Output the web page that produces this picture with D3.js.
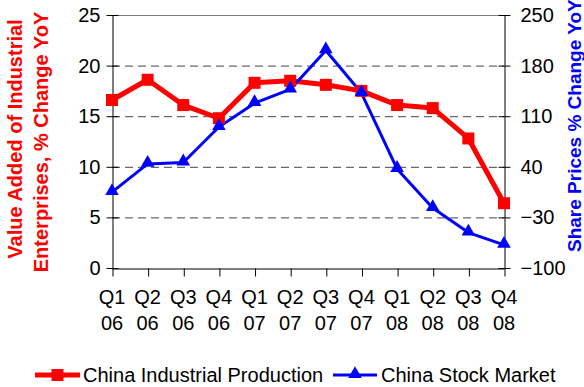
<!DOCTYPE html>
<html>
<head>
<meta charset="utf-8">
<script src="https://cdn.jsdelivr.net/npm/d3@7"></script>
<style>
  html, body { margin: 0; padding: 0; background: #fff; }
  text { font-family: "Liberation Sans", Arial, sans-serif; }
</style>
</head>
<body>
<svg id="chart" width="584" height="387"></svg>
<script>
// quarterly data, 2006-2008
const quarters = ['Q1', 'Q2', 'Q3', 'Q4', 'Q1', 'Q2', 'Q3', 'Q4', 'Q1', 'Q2', 'Q3', 'Q4'];
const years = ['06', '06', '06', '06', '07', '07', '07', '07', '08', '08', '08', '08'];
const industrial = [16.6, 18.6, 16.1, 14.8, 18.3, 18.5, 18.1, 17.5, 16.1, 15.8, 12.8, 6.4];
const stocks = [5, 44, 46, 95, 128, 147, 201, 142, 37, -17, -51, -68];
const leftTicks = [0, 5, 10, 15, 20, 25];
const rightTicks = [-100, -30, 40, 110, 180, 250];

const margin = { top: 15, right: 80, bottom: 119, left: 112 };
const width = 584 - margin.left - margin.right;
const height = 387 - margin.top - margin.bottom;

const svg = d3.select('#chart');
const g = svg.append('g')
  .attr('transform', `translate(${margin.left},${margin.top})`);

const idx = d3.range(quarters.length);
const x = d3.scalePoint().domain(idx).range([0, width]).padding(0);
const yLeft = d3.scaleLinear().domain([0, 25]).range([height, 0]);
const yRight = d3.scaleLinear().domain([-100, 250]).range([height, 0]);

// gridlines
g.append('g')
  .selectAll('line')
  .data(leftTicks.filter(d => d > 0))
  .enter().append('line')
  .attr('x1', 0)
  .attr('x2', width)
  .attr('y1', d => yLeft(d) + 0.5)
  .attr('y2', d => yLeft(d) + 0.5)
  .attr('stroke', d => d === 25 ? '#808080' : '#444')
  .attr('stroke-width', 1)
  .attr('stroke-dasharray', d => d === 25 ? null : '8,5');

// left axis
const leftAxis = g.append('g')
  .attr('transform', 'translate(0.5,0)')
  .call(d3.axisLeft(yLeft).tickValues(leftTicks).tickSize(6).tickPadding(6).tickSizeOuter(0));
leftAxis.selectAll('.tick line').attr('x1', 6);

// right axis
const rightAxis = g.append('g')
  .attr('transform', `translate(${width + 0.5},0)`)
  .call(d3.axisRight(yRight).tickValues(rightTicks).tickSize(6).tickPadding(10).tickSizeOuter(0));
rightAxis.selectAll('.tick line').attr('x1', -6);

// bottom axis
const bottomAxis = g.append('g')
  .attr('transform', `translate(0,${height + 0.5})`)
  .call(d3.axisBottom(x).tickSize(8).tickSizeOuter(0).tickFormat(''));
bottomAxis.selectAll('.tick line').attr('transform', 'translate(0.5,0)');

[leftAxis, rightAxis, bottomAxis].forEach(a => {
  a.select('.domain').attr('stroke', '#000');
  a.selectAll('.tick line').attr('stroke', '#000');
  a.selectAll('.tick text')
    .attr('fill', '#000')
    .style('font-size', '20px')
    .style('font-family', '"Liberation Sans", Arial, sans-serif');
});

// two-line category labels
const catLabels = g.append('g')
  .selectAll('text')
  .data(idx)
  .enter().append('text')
  .attr('text-anchor', 'middle')
  .attr('fill', '#000')
  .style('font-size', '20px');
catLabels.append('tspan')
  .attr('x', d => x(d))
  .attr('y', height + 36)
  .text(d => quarters[d]);
catLabels.append('tspan')
  .attr('x', d => x(d))
  .attr('y', height + 62)
  .text(d => years[d]);

// series lines
const lineL = d3.line().x((d, i) => x(i)).y(d => yLeft(d));
const lineR = d3.line().x((d, i) => x(i)).y(d => yRight(d));

g.append('path')
  .datum(industrial)
  .attr('d', lineL)
  .attr('fill', 'none')
  .attr('stroke', '#ff0000')
  .attr('stroke-width', 5)
  .attr('stroke-linejoin', 'round');

g.append('path')
  .datum(stocks)
  .attr('d', lineR)
  .attr('fill', 'none')
  .attr('stroke', '#0000ff')
  .attr('stroke-width', 3)
  .attr('stroke-linejoin', 'round');

const square = d3.symbol().type(d3.symbolSquare).size(144);
const triangle = d3.symbol().type(d3.symbolTriangle).size(80);

g.selectAll('.sq')
  .data(industrial)
  .enter().append('path')
  .attr('class', 'sq')
  .attr('d', square)
  .attr('transform', (d, i) => `translate(${x(i)},${yLeft(d)})`)
  .attr('fill', '#ff0000');

g.selectAll('.tri')
  .data(stocks)
  .enter().append('path')
  .attr('class', 'tri')
  .attr('d', triangle)
  .attr('transform', (d, i) => `translate(${x(i)},${yRight(d) - 1})`)
  .attr('fill', '#0000ff');

// axis titles
svg.append('text')
  .attr('transform', 'translate(21.5,139) rotate(-90)')
  .attr('text-anchor', 'middle')
  .attr('fill', '#ff0000')
  .style('font-size', '20px')
  .style('font-weight', 'bold')
  .text('Value Added of Industrial');

svg.append('text')
  .attr('transform', 'translate(47.5,142) rotate(-90)')
  .attr('text-anchor', 'middle')
  .attr('fill', '#ff0000')
  .style('font-size', '20px')
  .style('font-weight', 'bold')
  .text('Enterprises, % Change YoY');

svg.append('text')
  .attr('transform', 'translate(581,252) rotate(-90)')
  .attr('text-anchor', 'start')
  .attr('fill', '#0000ff')
  .style('font-size', '19px')
  .style('font-weight', 'bold')
  .text('Share Prices % Change YoY');

// legend
const legend = svg.append('g').attr('transform', 'translate(0,375)');
const legendItems = [
  { label: 'China Industrial Production', color: '#ff0000', width: 5, shape: square, x0: 35, x1: 80, tx: 83 },
  { label: 'China Stock Market', color: '#0000ff', width: 3, shape: triangle, x0: 333, x1: 377, tx: 381 }
];
legendItems.forEach(it => {
  legend.append('line')
    .attr('x1', it.x0).attr('x2', it.x1)
    .attr('y1', 0).attr('y2', 0)
    .attr('stroke', it.color)
    .attr('stroke-width', it.width);
  legend.append('path')
    .attr('d', it.shape)
    .attr('transform', `translate(${(it.x0 + it.x1) / 2},${it.shape === triangle ? -1 : 0})`)
    .attr('fill', it.color);
  legend.append('text')
    .attr('x', it.tx)
    .attr('y', 7)
    .attr('fill', '#000')
    .style('font-size', '20px')
    .text(it.label);
});
</script>
</body>
</html>
